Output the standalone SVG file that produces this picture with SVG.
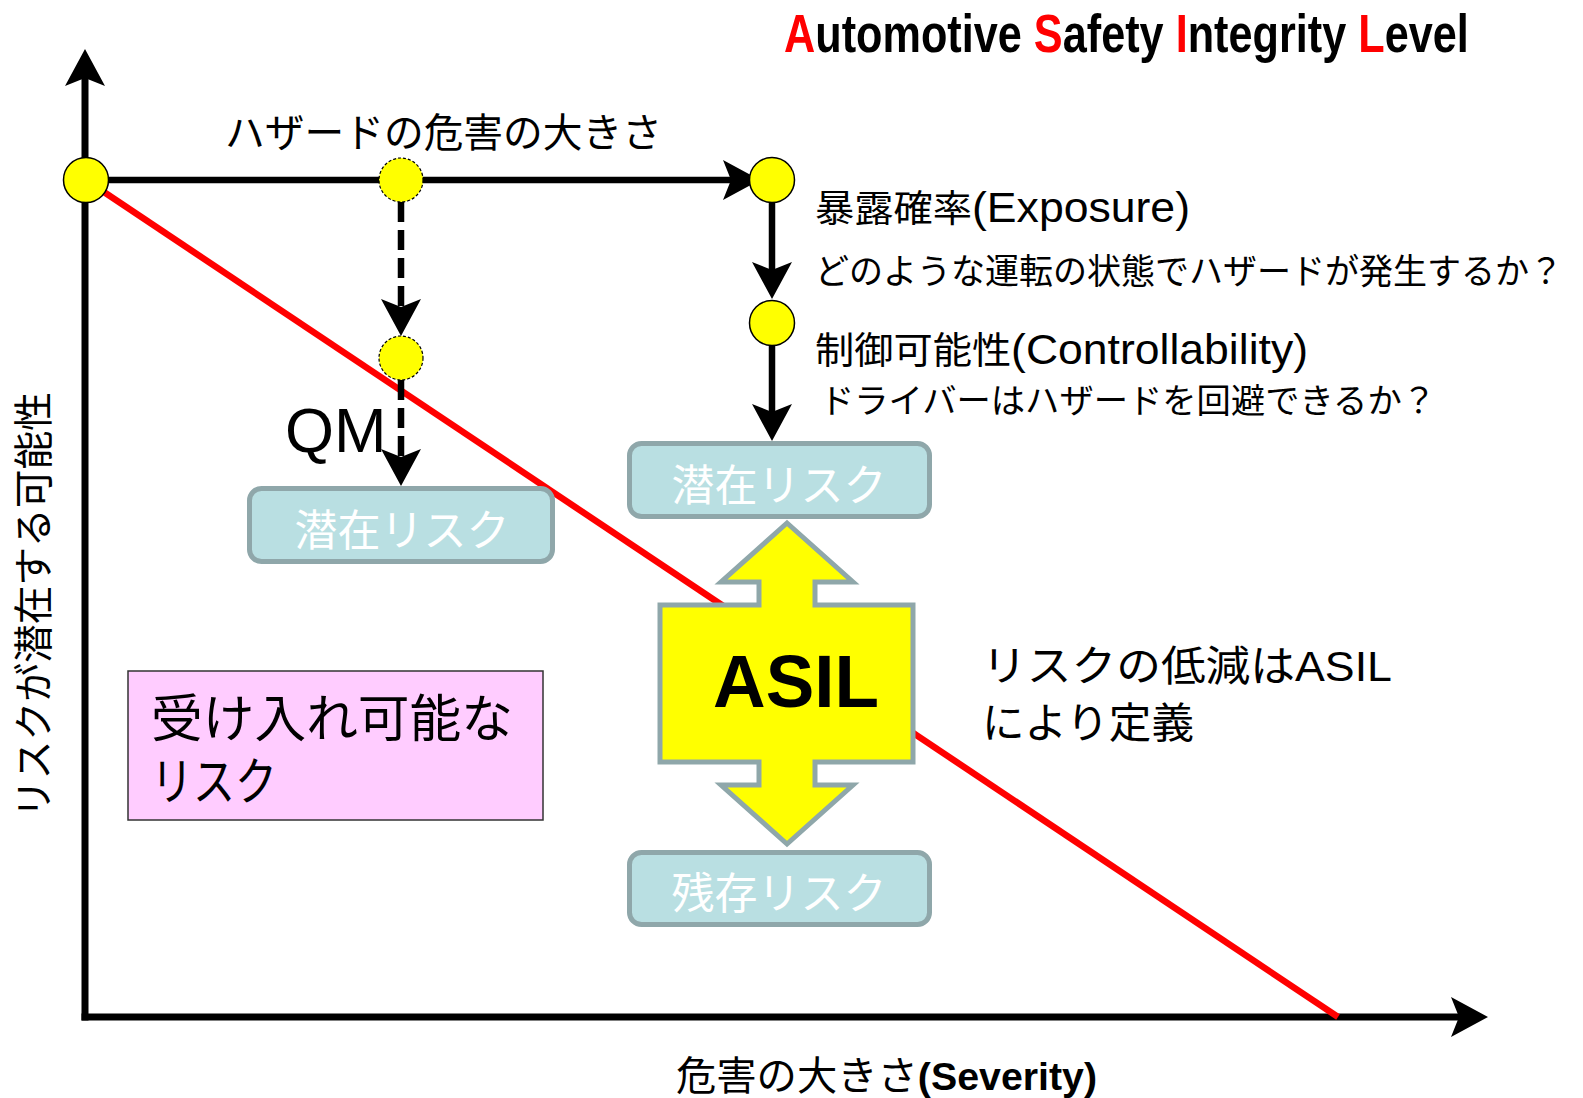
<svg xmlns="http://www.w3.org/2000/svg" width="1583" height="1098" viewBox="0 0 1583 1098">
  <style>
    .t { font-family: "Liberation Sans", "Noto Sans CJK JP", sans-serif; fill: #000; }
    .b { font-weight: bold; }
    .red { fill: #FF0000; }
    .axis { stroke: #000; stroke-width: 7; fill: none; }
    .conn { stroke: #000; stroke-width: 6.5; fill: none; }
    .dash { stroke-dasharray: 20 8; }
    .dot { fill: #FFFF00; stroke: #000; stroke-width: 1.5; }
    .dot-d { fill: #FFFF00; stroke: #000; stroke-width: 1.2; stroke-dasharray: 3 2; }
    .risk { fill: #B9DFE2; stroke: #8FA7AA; stroke-width: 5; }
    .risk-t { font-family: "Liberation Sans", "Noto Sans CJK JP", sans-serif; font-size: 43px; fill: #FFFFFF; text-anchor: middle; }
  </style>
  <defs>
    <!-- stealth arrowhead; path end sits at the notch, tip 29px further on -->
    <marker id="head" markerUnits="userSpaceOnUse" viewBox="-10 -22 42 44" markerWidth="42" markerHeight="44" refX="0" refY="0" orient="auto" overflow="visible">
      <path d="M29,0 L-8,-20 L0,0 L-8,20 Z" fill="#000"/>
    </marker>
  </defs>

  <rect width="1583" height="1098" fill="#FFFFFF"/>

  <!-- title, narrowed horizontally -->
  <text class="t b" transform="translate(784,52) scale(0.801,1)" x="0" y="0" font-size="54"><tspan class="red">A</tspan>utomotive <tspan class="red">S</tspan>afety <tspan class="red">I</tspan>ntegrity <tspan class="red">L</tspan>evel</text>

  <!-- axes -->
  <g id="axes">
    <line class="axis" x1="85" y1="1020.5" x2="85" y2="78" marker-end="url(#head)"/>
    <line class="axis" x1="81.5" y1="1017" x2="1459" y2="1017" marker-end="url(#head)"/>
    <text class="t" transform="translate(48,605) rotate(-90)" font-size="40" text-anchor="middle" textLength="426" lengthAdjust="spacingAndGlyphs">リスクが潜在する可能性</text>
    <text class="t" x="676" y="1090" textLength="421" lengthAdjust="spacingAndGlyphs"><tspan font-size="40">危害の大きさ</tspan><tspan class="b" font-size="39">(Severity)</tspan></text>
  </g>

  <!-- acceptable-risk boundary -->
  <line id="boundary" x1="86" y1="180" x2="1338" y2="1017" stroke="#FF0000" stroke-width="6.5"/>

  <!-- connectors -->
  <g id="connectors">
    <line class="conn" x1="86" y1="180" x2="731" y2="180" marker-end="url(#head)"/>
    <line class="conn dash" x1="401" y1="202" x2="401" y2="307" marker-end="url(#head)"/>
    <line class="conn dash" x1="401" y1="380" x2="401" y2="457" marker-end="url(#head)"/>
    <line class="conn" x1="772" y1="202" x2="772" y2="270" marker-end="url(#head)"/>
    <line class="conn" x1="772" y1="345" x2="772" y2="412" marker-end="url(#head)"/>
  </g>

  <!-- points -->
  <g id="p-origin"><circle class="dot" cx="86" cy="180" r="22.5"/></g>
  <g id="p-qm-top"><circle class="dot-d" cx="401" cy="180" r="22"/></g>
  <g id="p-qm-mid"><circle class="dot-d" cx="401" cy="358" r="22"/></g>
  <g id="p-exposure"><circle class="dot" cx="772" cy="180" r="22.5"/></g>
  <g id="p-control"><circle class="dot" cx="772" cy="323" r="22.5"/></g>

  <text class="t" x="225" y="147" font-size="40" textLength="437" lengthAdjust="spacingAndGlyphs">ハザードの危害の大きさ</text>

  <g id="exposure-label">
    <text class="t" x="815" y="222" textLength="375" lengthAdjust="spacingAndGlyphs"><tspan font-size="37">暴露確率</tspan><tspan font-size="42">(Exposure)</tspan></text>
    <text class="t" x="815" y="284" font-size="35" textLength="748" lengthAdjust="spacingAndGlyphs">どのような運転の状態でハザードが発生するか？</text>
  </g>
  <g id="control-label">
    <text class="t" x="815" y="364" textLength="493" lengthAdjust="spacingAndGlyphs"><tspan font-size="37">制御可能性</tspan><tspan font-size="42">(Controllability)</tspan></text>
    <text class="t" x="820" y="413" font-size="34" textLength="616" lengthAdjust="spacingAndGlyphs">ドライバーはハザードを回避できるか？</text>
  </g>

  <text id="qm" class="t" x="285" y="452" font-size="63">QM</text>

  <!-- risk boxes -->
  <g id="risk-qm">
    <rect class="risk" x="249.5" y="488.5" width="303" height="73" rx="12"/>
    <text class="risk-t" x="402" y="546">潜在リスク</text>
  </g>
  <g id="risk-potential">
    <rect class="risk" x="629.5" y="443.5" width="300" height="73" rx="12"/>
    <text class="risk-t" x="779" y="501">潜在リスク</text>
  </g>
  <g id="risk-residual">
    <rect class="risk" x="629.5" y="852.5" width="300" height="72" rx="12"/>
    <text class="risk-t" x="779" y="909">残存リスク</text>
  </g>

  <!-- ASIL double arrow -->
  <g id="asil">
    <polygon points="787,523 853,582 815,582 815,605 913,605 913,762 815,762 815,785 853,785 787,844 721,785 759,785 759,762 660,762 660,605 759,605 759,582 721,582" fill="#FFFF00" stroke="#8FA7AA" stroke-width="5"/>
    <text class="t b" x="796" y="707" font-size="74" text-anchor="middle" textLength="166" lengthAdjust="spacingAndGlyphs">ASIL</text>
  </g>

  <g id="asil-note">
    <text class="t" x="982" y="681" font-size="42" textLength="410" lengthAdjust="spacingAndGlyphs">リスクの低減はASIL</text>
    <text class="t" x="982" y="738" font-size="42" textLength="212" lengthAdjust="spacingAndGlyphs">により定義</text>
  </g>

  <!-- acceptable risk region label -->
  <g id="acceptable">
    <rect x="128" y="671" width="415" height="149" fill="#FFCCFF" stroke="#333333" stroke-width="1.5"/>
    <text class="t" x="151" y="737" font-size="51" textLength="362" lengthAdjust="spacingAndGlyphs">受け入れ可能な</text>
    <text class="t" x="151" y="800" font-size="51" textLength="126" lengthAdjust="spacingAndGlyphs">リスク</text>
  </g>
</svg>
